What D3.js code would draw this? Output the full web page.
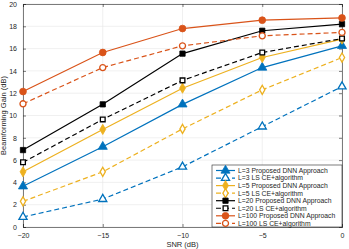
<!doctype html>
<html lang="en">
<head>
<meta charset="UTF-8">
<title>Beamforming Gain</title>
<style>
  body { margin: 0; background: #fff; }
  text { font-family: "Liberation Sans", Arial, sans-serif; }
</style>
</head>
<body>
<svg id="chart" width="349" height="249"></svg>
<script src="https://cdn.jsdelivr.net/npm/d3@7"></script>
<script>
// SNR values on the x axis
const snr = [-20, -15, -10, -5, 0]
const xTicks = [-20, -15, -10, -5, 0]
const yTicks = [0, 2, 4, 6, 8, 10, 12, 14, 16, 18, 20]

// beamforming gain (dB) per curve
const l3Dnn = [3.65, 7.2, 11.0, 14.3, 16.25]
const l3Ls = [0.9, 2.5, 5.4, 9.0, 12.6]
const l5Dnn = [4.95, 8.75, 12.45, 15.2, 16.85]
const l5Ls = [2.3, 4.95, 8.8, 12.3, 15.2]
const l20Dnn = [6.9, 11.0, 15.55, 17.6, 18.2]
const l20Ls = [5.8, 9.65, 13.15, 15.65, 16.9]
const l100Dnn = [12.15, 15.65, 17.8, 18.55, 18.75]
const l100Ls = [11.05, 14.3, 16.25, 17.15, 17.45]

const series = [
  {name: 'L=3 Proposed DNN Approach', values: l3Dnn, color: '#0072BD', dash: false, marker: 'triangle', fill: true},
  {name: 'L=3 LS CE+algorithm', values: l3Ls, color: '#0072BD', dash: true, marker: 'triangle', fill: false},
  {name: 'L=5 Proposed DNN Approach', values: l5Dnn, color: '#EDB120', dash: false, marker: 'diamond', fill: true},
  {name: 'L=5 LS CE+algorithm', values: l5Ls, color: '#EDB120', dash: true, marker: 'diamond', fill: false},
  {name: 'L=20 Proposed DNN Approach', values: l20Dnn, color: '#000000', dash: false, marker: 'square', fill: true},
  {name: 'L=20 LS CE+algorithm', values: l20Ls, color: '#000000', dash: true, marker: 'square', fill: false},
  {name: 'L=100 Proposed DNN Approach', values: l100Dnn, color: '#D95319', dash: false, marker: 'circle', fill: true},
  {name: 'L=100 LS CE+algorithm', values: l100Ls, color: '#D95319', dash: true, marker: 'circle', fill: false}
]

const margin = {top: 4, right: 7, bottom: 22, left: 23}
const width = 349 - margin.left - margin.right
const height = 249 - margin.top - margin.bottom

const svg = d3.select('#chart')
const g = svg.append('g').attr('transform', `translate(${margin.left},${margin.top})`)

const x = d3.scaleLinear().domain([-20, 0]).range([0, width])
const y = d3.scaleLinear().domain([0, 20]).range([height, 0])

// grid
g.append('g').selectAll('line').data(xTicks).enter().append('line')
  .attr('x1', d => x(d)).attr('x2', d => x(d)).attr('y1', 0).attr('y2', height)
  .attr('stroke', '#e6e6e6').attr('stroke-width', 0.6)
g.append('g').selectAll('line').data(yTicks).enter().append('line')
  .attr('x1', 0).attr('x2', width).attr('y1', d => y(d)).attr('y2', d => y(d))
  .attr('stroke', '#e6e6e6').attr('stroke-width', 0.6)

// axes with inward ticks
const xAxis = g.append('g').attr('transform', `translate(0,${height})`)
  .call(d3.axisBottom(x).tickValues(xTicks).tickSize(-3).tickPadding(6).tickFormat(d3.format('d')))
const yAxis = g.append('g')
  .call(d3.axisLeft(y).tickValues(yTicks).tickSize(-3).tickPadding(6))
const xTop = g.append('g').call(d3.axisTop(x).tickValues(xTicks).tickSize(-3).tickFormat(''))
const yRight = g.append('g').attr('transform', `translate(${width},0)`)
  .call(d3.axisRight(y).tickValues(yTicks).tickSize(-3).tickFormat(''))
;[xAxis, yAxis, xTop, yRight].forEach(a => {
  a.select('.domain').attr('stroke', '#262626').attr('stroke-width', 0.6)
  a.selectAll('.tick line').attr('stroke', '#262626').attr('stroke-width', 0.6)
  a.selectAll('text').attr('fill', '#262626').style('font-size', '7px')
    .style('font-family', '"Liberation Sans", Arial, sans-serif')
})

// axis labels
g.append('text').attr('x', x(-10)).attr('y', height + 20)
  .attr('text-anchor', 'middle').attr('fill', '#262626').style('font-size', '7.5px')
  .text('SNR (dB)')
g.append('text').attr('transform', `translate(${-17},${height / 2}) rotate(-90)`)
  .attr('text-anchor', 'middle').attr('fill', '#262626').style('font-size', '7.5px')
  .text('Beamforming Gain (dB)')

const symbols = {triangle: d3.symbolTriangle, diamond: d3.symbolDiamond, square: d3.symbolSquare, circle: d3.symbolCircle}
const sizes = {triangle: 36, diamond: 30, square: 28, circle: 36}

function marker(sel, s) {
  sel.append('path')
    .attr('d', d3.symbol().type(symbols[s.marker]).size(s.fill ? sizes[s.marker] : sizes[s.marker] * 0.8)())
    .attr('fill', s.fill ? s.color : '#fff')
    .attr('stroke', s.color)
    .attr('stroke-width', s.fill ? 0.8 : 1.3)
}

const line = d3.line().x((d, i) => x(snr[i])).y(d => y(d))

series.forEach(s => {
  const sg = g.append('g')
  sg.append('path').datum(s.values).attr('d', line)
    .attr('fill', 'none').attr('stroke', s.color).attr('stroke-width', 1.2)
    .attr('stroke-dasharray', s.dash ? '5,3' : null)
  sg.selectAll('g.pt').data(s.values).enter().append('g')
    .attr('transform', (d, i) => `translate(${x(snr[i])},${y(d)})`)
    .each(function () { marker(d3.select(this), s) })
})

// legend
const lx = 189, ly = 161, lw = width - lx, rowH = 7.55
const lg = g.append('g').attr('transform', `translate(${lx},${ly})`)
lg.append('rect').attr('width', lw).attr('height', height - ly)
  .attr('fill', '#fff').attr('stroke', '#262626').attr('stroke-width', 0.6)
series.forEach((s, i) => {
  const row = lg.append('g').attr('transform', `translate(0,${5.5 + i * rowH})`)
  row.append('line').attr('x1', 4).attr('x2', 23).attr('y1', 0).attr('y2', 0)
    .attr('stroke', s.color).attr('stroke-width', 1.2)
    .attr('stroke-dasharray', s.dash ? '5,3' : null)
  marker(row.append('g').attr('transform', 'translate(13.5,0)'), s)
  row.append('text').attr('x', 26).attr('y', 2.4)
    .attr('fill', '#262626').style('font-size', '6.8px').text(s.name)
})
</script>
</body>
</html>
